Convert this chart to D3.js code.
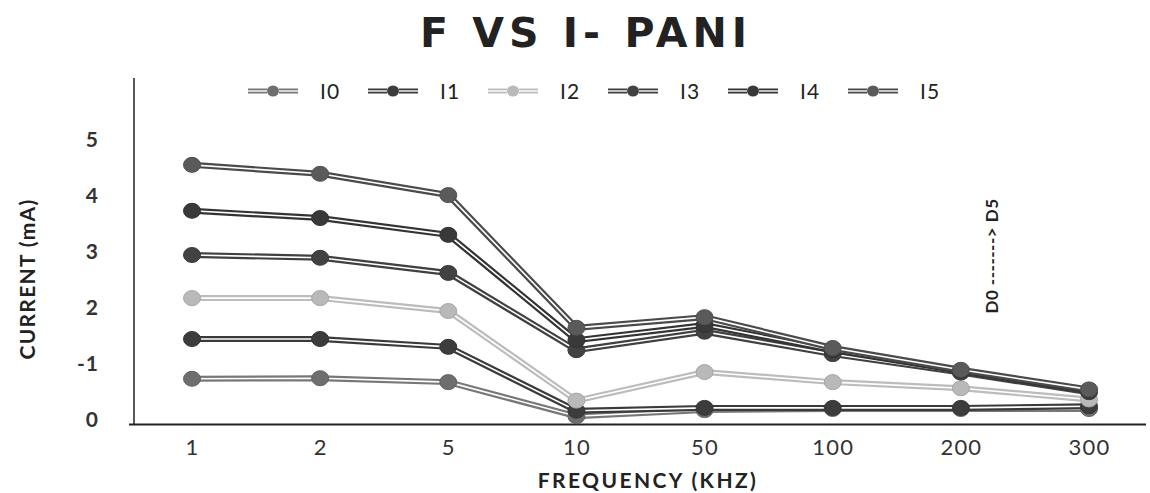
<!DOCTYPE html>
<html>
<head>
<meta charset="utf-8">
<script src="https://cdn.jsdelivr.net/npm/d3@7"></script>
<style>
  html, body { margin: 0; padding: 0; background: #fff; }
  svg { display: block; }
</style>
</head>
<body>
<svg id="chart" width="1150" height="493"></svg>
<script>
// ---- data ----
const categories = ["1", "2", "5", "10", "50", "100", "200", "300"];
const seriesNames = ["I0", "I1", "I2", "I3", "I4", "I5"];
const I0 = [0.79, 0.80, 0.73, 0.12, 0.23, 0.25, 0.25, 0.25];
const I1 = [1.50, 1.50, 1.36, 0.22, 0.27, 0.27, 0.27, 0.30];
const I2 = [2.23, 2.23, 2.00, 0.40, 0.91, 0.73, 0.62, 0.42];
const I3 = [3.00, 2.95, 2.68, 1.30, 1.63, 1.23, 0.90, 0.55];
const I4 = [3.79, 3.66, 3.36, 1.48, 1.75, 1.30, 0.93, 0.58];
const I5 = [4.61, 4.45, 4.07, 1.70, 1.89, 1.34, 0.95, 0.60];
const seriesValues = [I0, I1, I2, I3, I4, I5];
const yTicks = [0, 1, 2, 3, 4, 5];
const yTickLabels = ["0", "-1", "2", "3", "4", "5"];
const lineColors = ["#777777", "#3a3a3a", "#bcbcbc", "#404040", "#333333", "#4a4a4a"];
const dotColors = ["#6e6e6e", "#3c3c3c", "#b9b9b9", "#424242", "#393939", "#5a5a5a"];

const svg = d3.select("#chart");
const font = "Lato, 'Open Sans', sans-serif";

const x = d3.scalePoint().domain(categories).range([192, 1089]);
const y = d3.scaleLinear().domain([0, 5]).range([423, 143]);

// title
svg.append("text")
  .attr("x", 586).attr("y", 47)
  .attr("text-anchor", "middle")
  .attr("font-family", "'DejaVu Sans', Verdana, sans-serif")
  .attr("font-weight", "bold")
  .attr("font-size", 41)
  .attr("letter-spacing", 5)
  .attr("fill", "#222")
  .text("F VS I- PANI");

// axes lines
svg.append("line").attr("x1", 134).attr("x2", 134).attr("y1", 78).attr("y2", 425)
  .attr("stroke", "#222").attr("stroke-width", 1.5);
svg.append("line").attr("x1", 129).attr("x2", 1146).attr("y1", 424.5).attr("y2", 424.5)
  .attr("stroke", "#222").attr("stroke-width", 2.2);

// y axis labels
const yAxis = d3.axisLeft(y).tickValues(yTicks)
  .tickFormat((d, i) => yTickLabels[i]).tickSize(0).tickPadding(0);
const gy = svg.append("g").attr("transform", "translate(99,-3)").call(yAxis);
gy.select(".domain").remove();
gy.selectAll("text").attr("font-family", font).attr("font-size", 21)
  .attr("font-weight", "bold").attr("letter-spacing", 1).attr("fill", "#333");

// x axis labels
const xAxis = d3.axisBottom(x).tickSize(0).tickPadding(15);
const gx = svg.append("g").attr("transform", "translate(0,424)").call(xAxis);
gx.select(".domain").remove();
gx.selectAll("text").attr("font-family", font).attr("font-size", 22)
  .attr("letter-spacing", 1.2).attr("fill", "#333");

// axis titles
svg.append("text")
  .attr("transform", "translate(35,279) rotate(-90)")
  .attr("text-anchor", "middle")
  .attr("font-family", font).attr("font-weight", "bold").attr("font-size", 21)
  .attr("letter-spacing", 1.3)
  .attr("fill", "#222")
  .text("CURRENT (mA)");
svg.append("text")
  .attr("x", 648).attr("y", 488)
  .attr("text-anchor", "middle")
  .attr("font-family", font).attr("font-weight", "bold").attr("font-size", 21)
  .attr("letter-spacing", 2.4)
  .attr("fill", "#222")
  .text("FREQUENCY (KHZ)");

// annotation
svg.append("text")
  .attr("transform", "translate(998,256) rotate(-90)")
  .attr("text-anchor", "middle")
  .attr("font-family", font).attr("font-weight", "bold").attr("font-size", 17)
  .attr("letter-spacing", 0.5)
  .attr("fill", "#222")
  .text("D0 -------> D5");

// series
const line = d3.line().x((d, i) => x(categories[i])).y(d => y(d));
const gSeries = svg.append("g");
seriesValues.forEach((vals, si) => {
  const g = gSeries.append("g");
  g.append("path").datum(vals).attr("d", line)
    .attr("fill", "none").attr("stroke", lineColors[si]).attr("stroke-width", 6);
  g.append("path").datum(vals).attr("d", line)
    .attr("fill", "none").attr("stroke", "#fff").attr("stroke-width", 1.6);
  g.selectAll("ellipse").data(vals).join("ellipse")
    .attr("cx", (d, i) => x(categories[i]))
    .attr("cy", d => y(d))
    .attr("rx", 8.5).attr("ry", 7.5)
    .attr("fill", dotColors[si])
    .attr("stroke", d3.color(dotColors[si]).darker(0.3))
    .attr("stroke-width", 1);
});

// legend
const legendX = d3.scalePoint().domain(seriesNames).range([248, 848]);
const lg = svg.append("g");
seriesNames.forEach((name, si) => {
  const x0 = legendX(name);
  const ly = 91;
  const g = lg.append("g");
  [[x0, x0 + 19], [x0 + 31, x0 + 50]].forEach(([a, b]) => {
    g.append("line").attr("x1", a).attr("x2", b).attr("y1", ly).attr("y2", ly)
      .attr("stroke", lineColors[si]).attr("stroke-width", 5);
    g.append("line").attr("x1", a).attr("x2", b).attr("y1", ly).attr("y2", ly)
      .attr("stroke", "#fff").attr("stroke-width", 1.4);
  });
  g.append("ellipse").attr("cx", x0 + 25).attr("cy", ly).attr("rx", 6).attr("ry", 5.5)
    .attr("fill", dotColors[si]);
  g.append("text").attr("x", x0 + 72).attr("y", ly + 8)
    .attr("font-family", font).attr("font-size", 21).attr("letter-spacing", 1)
    .attr("fill", "#222")
    .text(name);
});
</script>
</body>
</html>
